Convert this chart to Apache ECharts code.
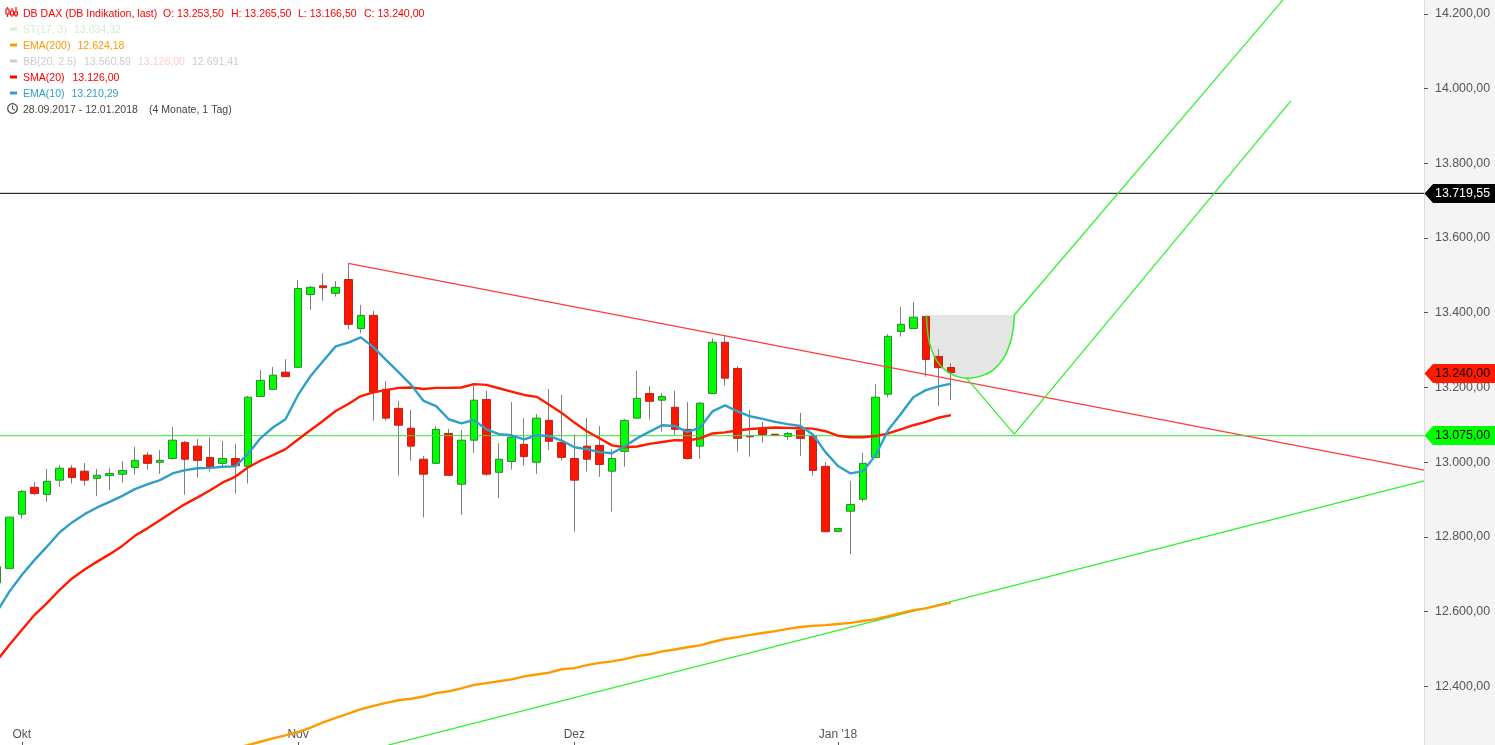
<!DOCTYPE html>
<html>
<head>
<meta charset="utf-8">
<style>html,body{margin:0;padding:0;background:#f4f4f4}#c{width:1495px;height:745px}</style>
<script src="https://cdn.jsdelivr.net/npm/echarts@6/dist/echarts.min.js"></script>
</head>
<body>
<div id="c"></div>
<script>
// Candles, index 0 = 28.09.2017 ... index 76 = 12.01.2018 (trading days)
const opens  = [12677,12716,12861,12933,12914,12952,12984,12976,12957,12964,12968,12986,13019,13000,13010,13053,13043,13013,12997,13010,12989,13176,13195,13241,13254,13449,13472,13452,13489,13358,13393,13195,13144,13091,13008,12997,13077,12941,13059,13168,12973,13002,13048,13000,13112,13053,13010,13043,13045,12976,13029,13118,13184,13166,13147,13088,13043,13184,13321,13251,13070,13091,13075,13069,13086,13070,12989,12815,12869,12901,13013,13182,13350,13358,13390,13283,13253.5];
const closes = [12720,12853,12922,12916,12949,12984,12959,12952,12965,12970,12978,13005,12997,13005,13059,13008,13005,12986,13010,12991,13174,13219,13233,13229,13465,13468,13467,13468,13369,13393,13189,13118,13099,13043,12968,13088,12965,13059,13166,12968,13008,13067,13015,13118,13056,13013,12952,13008,12994,13010,13112,13171,13163,13176,13088,13010,13158,13321,13225,13064,13068,13074,13072,13077,13064,12978,12814,12823,12887,12997,13174,13337,13369,13388,13275,13253,13240];
const lows   = [12677,12716,12849,12912,12894,12934,12943,12937,12910,12926,12945,12967,12980,12969,13007,12913,12959,12975,12986,12916,12943,13176,13195,13229,13254,13407,13432,13443,13356,13346,13111,13111,12964,13004,12852,12997,12965,12859,13025,12964,12905,12980,12991,12969,13033,13004,12814,12975,12961,12868,12988,13118,13114,13082,13073,13007,13009,13184,13205,13028,13015,13052,13072,13060,13017,12964,12814,12815,12754,12894,13013,13173,13336,13358,13229,13151,13166.5];
const highs  = [12720,12853,12926,12947,12982,12993,12993,12998,12982,12985,13003,13041,13027,13033,13094,13057,13062,13067,13057,13049,13178,13247,13255,13276,13488,13472,13506,13485,13532,13421,13405,13217,13164,13140,13017,13097,13089,13086,13209,13191,13051,13161,13118,13129,13196,13180,13075,13118,13097,13035,13116,13244,13204,13185,13191,13161,13161,13332,13340,13257,13140,13108,13075,13081,13132,13070,13001,12823,12950,13025,13209,13343,13415,13429,13390,13303,13265.5];

const ema10 = [12599,12653,12698,12738,12774,12812,12839,12861,12879,12894,12910,12928,12941,12952,12970,12979,12984,12985,12988,12989,13022,13064,13093,13115,13180,13231,13271,13310,13320,13334,13308,13274,13241,13207,13164,13150,13115,13104,13113,13088,13075,13072,13061,13072,13070,13058,13040,13035,13027,13024,13042,13064,13082,13099,13097,13081,13092,13136,13152,13136,13123,13116,13108,13102,13097,13074,13027,12990,12970,12976,13019,13086,13129,13174,13193,13203,13210.29];
const sma20 = [12468,12511,12551,12591,12623,12658,12689,12713,12734,12754,12776,12803,12823,12845,12867,12888,12906,12925,12946,12961,12986,13004,13019,13035,13061,13086,13111,13137,13156,13177,13187,13193,13199,13200,13196,13199,13199,13200,13209,13207,13198,13189,13180,13175,13154,13132,13106,13083,13064,13045,13040,13042,13049,13054,13059,13058,13064,13077,13080,13085,13089,13091,13093,13092,13091,13090,13083,13071,13067,13067,13070,13077,13088,13099,13108,13119,13126];
// EMA(200) first visible at index 19
const ema200Start = 19;
const ema200 = [12235,12243,12252,12261,12269,12278,12290,12304,12316,12327,12339,12348,12356,12363,12367,12373,12382,12387,12395,12404,12409,12414,12419,12427,12432,12437,12446,12449,12457,12463,12467,12473,12481,12486,12494,12499,12505,12510,12519,12527,12532,12538,12543,12548,12554,12559,12562,12564,12567,12570,12575,12580,12588,12596,12604,12609,12617,12624.18];

// Drawn annotations: [candle index, price]
const xMin = 0.263, xMax = 113.67;
const resistanceLine = [[28,13532],[xMax,12979]];
const supportLine = [[31.19,12243],[xMax,12950]];
const blackLevel = 13719.55;
const greenLevel = 13071;
const cupArc = [[74.03,13394],[74.17,13340],[74.46,13300],[74.91,13269],[75.52,13247],[76.31,13231],[77.37,13225],[78.44,13231],[79.37,13247],[80.17,13278],[80.70,13318],[80.96,13358],[81.04,13394]];
const upperArrow = [[81.04,13394],[102.44,14237]];
const zigzag = [[77.19,13227],[81.04,13075],[103.07,13967]];

// Axis
const yTicks = [12400,12600,12800,13000,13200,13400,13600,13800,14000,14200];
const yTickLabels = ['12.400,00','12.600,00','12.800,00','13.000,00','13.200,00','13.400,00','13.600,00','13.800,00','14.000,00','14.200,00'];
const xTicks = [2,24,46,67];
const xTickLabels = ['Okt','Nov','Dez',"Jan '18"];

// Price tags at the right
const tagPositions = [13719.55,13238,13071];
const tagTexts = ['13.719,55','13.240,00','13.075,00'];
const tagFills = ['#000000','#ff1a00','#00ff00'];
const tagInk = ['#ffffff','#000000','#000000'];

// Legend text
const FONT = '"Liberation Sans", Arial, sans-serif';
const legendRows = [
  {y:13, icon:null, parts:[[23,'DB DAX (DB Indikation, last)','#ff0000'],[163,'O: 13.253,50','#ff0000'],[231,'H: 13.265,50','#ff0000'],[298,'L: 13.166,50','#ff0000'],[364,'C: 13.240,00','#ff0000']]},
  {y:29, icon:'#d5efd2', parts:[[23,'ST(17, 3)','#d2eccf'],[74,'13.034,32','#d2eccf']]},
  {y:45, icon:'#ff9900', parts:[[23,'EMA(200)','#ff9900'],[77.5,'12.624,18','#ff9900']]},
  {y:61, icon:'#cccccc', parts:[[23,'BB(20, 2.5)','#cccccc'],[84,'13.560,59','#cccccc'],[138,'13.126,00','#ffcccc'],[192,'12.691,41','#cccccc']]},
  {y:77, icon:'#ff0000', parts:[[23,'SMA(20)','#ff0000'],[72.5,'13.126,00','#ff0000']]},
  {y:93, icon:'#2e9fc8', parts:[[23,'EMA(10)','#2e9fc8'],[71.5,'13.210,29','#2e9fc8']]},
  {y:109, icon:null, parts:[[23,'28.09.2017 - 12.01.2018','#444444'],[149,'(4 Monate, 1 Tag)','#444444']]}
];

const graphics = [];
legendRows.forEach(r => {
  if (r.icon) graphics.push({type:'rect', shape:{x:10,y:r.y-1.5,width:7,height:3}, style:{fill:r.icon}, silent:true});
  r.parts.forEach(p => graphics.push({type:'text', x:p[0], y:r.y+0.8, style:{text:p[1], fill:p[2], font:'10.55px '+FONT, textVerticalAlign:'middle', textAlign:'left'}, silent:true}));
});
// Candle glyph
[[7.5,7,17,9,14],[12,8,17,11,15],[16,7,17,12,15]].forEach(g => {
  graphics.push({type:'line', shape:{x1:g[0],y1:g[1],x2:g[0],y2:g[2]}, style:{stroke:'#ee1010',lineWidth:1.2}, silent:true});
  graphics.push({type:'rect', shape:{x:g[0]-1.5,y:g[3],width:3,height:g[4]-g[3]}, style:{fill:'#ffffff',stroke:'#ee1010',lineWidth:1.2}, silent:true});
});
// Clock glyph
graphics.push({type:'circle', shape:{cx:12.5,cy:108.5,r:4.8}, style:{fill:'none',stroke:'#444',lineWidth:1.2}, silent:true});
graphics.push({type:'polyline', shape:{points:[[12.5,105.5],[12.5,108.8],[15,110.3]]}, style:{fill:'none',stroke:'#444',lineWidth:1}, silent:true});

const idx = opens.map((_,i)=>i);
const wickData = idx.map(i => [i,opens[i],closes[i],lows[i],highs[i]]);
const bodyData = idx.map(i => [i,opens[i],closes[i],Math.min(opens[i],closes[i]),Math.max(opens[i],closes[i])]);
const lineOf = (arr,start=0) => arr.map((v,i)=>[i+start,v]);
const plain = (name,data,color,width,extra) => Object.assign({type:'line',name,data,symbol:'none',silent:true,lineStyle:{color,width},itemStyle:{color},animation:false,clip:true},extra||{});
const annotationGreen = '#2cf02c';

const chart = echarts.init(document.getElementById('c'),null,{renderer:'canvas'});
chart.setOption({
  animation:false,
  backgroundColor:'#f4f4f4',
  textStyle:{fontFamily:FONT},
  grid:{left:0,top:0,width:1424,height:745,show:true,backgroundColor:'#ffffff',borderWidth:0},
  xAxis:{
    type:'value',min:xMin,max:xMax,
    axisLine:{show:false},splitLine:{show:false},
    axisTick:{show:true,inside:true,length:3,lineStyle:{color:'#555'},customValues:xTicks},
    axisLabel:{show:true,inside:true,margin:4,color:'#555',fontSize:12,fontFamily:FONT,customValues:xTicks,hideOverlap:false,
      formatter:v=>xTickLabels[xTicks.indexOf(v)]||''}
  },
  yAxis:{
    type:'value',position:'right',min:12243.3,max:14236.9,
    axisLine:{show:true,lineStyle:{color:'#dddddd',width:1}},splitLine:{show:false},
    axisTick:{show:true,length:4,lineStyle:{color:'#555'},customValues:yTicks},
    axisLabel:{show:true,margin:11,color:'#555',fontSize:12.4,fontFamily:FONT,customValues:yTicks,align:'left',
      formatter:v=>yTickLabels[yTicks.indexOf(v)]||''}
  },
  graphic:graphics,
  series:[
    {type:'custom',name:'cup',silent:true,clip:true,data:[[0,0]],z:1,
      renderItem:(p,api)=>({type:'polygon',shape:{points:cupArc.map(c=>api.coord(c))},style:{fill:'#e5e5e5'}})},
    {type:'candlestick',name:'wicks',silent:true,z:2,barWidth:1,data:wickData,encode:{x:0,y:[1,2,3,4]},
      itemStyle:{color:'#808080',color0:'#808080',borderColor:'#808080',borderColor0:'#808080',borderWidth:1}},
    {type:'candlestick',name:'DB DAX',silent:true,z:3,barWidth:8,data:bodyData,encode:{x:0,y:[1,2,3,4]},
      itemStyle:{color:'#00ff00',color0:'#ff1500',borderColor:'#2b8a2b',borderColor0:'#b8261a',borderWidth:1}},
    plain('res',resistanceLine,'#ff3b3b',1.2,{z:4}),
    plain('sup',supportLine,annotationGreen,1.2,{z:4}),
    plain('black',[[xMin,blackLevel],[xMax,blackLevel]],'#000000',1,{z:4}),
    plain('green',[[xMin,greenLevel],[xMax,greenLevel]],'#33e233',1,{z:4}),
    plain('cupArc',cupArc,annotationGreen,1.5,{z:4,smooth:0.3}),
    plain('up',upperArrow,annotationGreen,1.2,{z:4}),
    plain('zig',zigzag,annotationGreen,1.2,{z:4}),
    plain('EMA(200)',lineOf(ema200,ema200Start),'#ff9900',2.4,{z:5}),
    plain('SMA(20)',lineOf(sma20),'#ff1a00',2.4,{z:5}),
    plain('EMA(10)',lineOf(ema10),'#2e9fc8',2.4,{z:6}),
    {type:'custom',name:'tags',silent:true,clip:false,z:7,
      data:tagPositions.map((v,i)=>[xMax,v,i]),encode:{x:0,y:1},
      renderItem:(p,api)=>{
        const i=api.value(2); const c=api.coord([api.value(0),api.value(1)]);
        const x=c[0]+0.5,y=Math.round(c[1]*2)/2;
        return {type:'group',children:[
          {type:'polygon',shape:{points:[[x,y],[x+8.5,y-9.5],[1495,y-9.5],[1495,y+9.5],[x+8.5,y+9.5]]},style:{fill:tagFills[i]}},
          {type:'text',x:1435,y:y+0.5,style:{text:tagTexts[i],fill:tagInk[i],font:'12.4px '+FONT,textVerticalAlign:'middle',textAlign:'left'}}
        ]};
      }}
  ]
});
</script>
</body>
</html>
